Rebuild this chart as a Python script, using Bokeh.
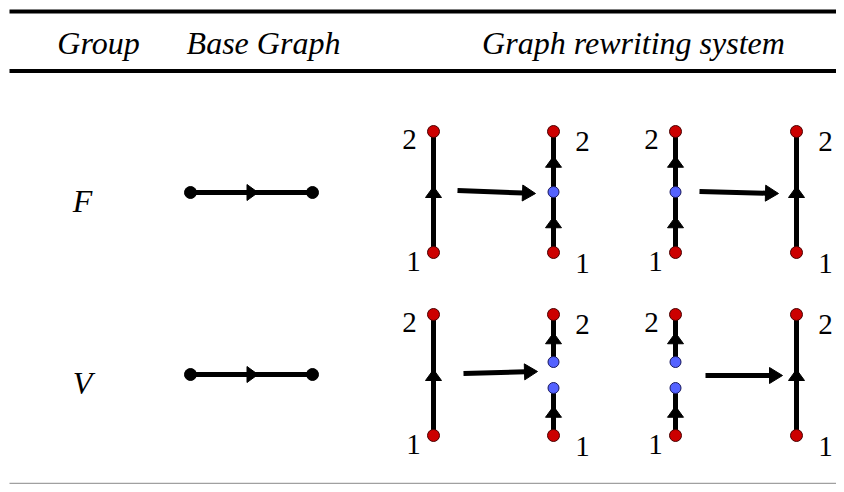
import numpy as np
from bokeh.plotting import figure
from bokeh.models import Range1d, ColumnDataSource
from bokeh.core.properties import value
from bokeh.embed import file_html
from bokeh.resources import INLINE

# ---------------- data ----------------
headers = ["Group", "Base Graph", "Graph rewriting system"]
groups = ["F", "V"]
end_labels = ["1", "2"]          # bottom endpoint, top endpoint
# four graphs of each rewriting system: list of chains (bottom -> top),
# 'end' = red labelled endpoint, 'mid' = blue inserted vertex
rewrite_graphs = {
    "F": [[["end", "end"]],
          [["end", "mid", "end"]],
          [["end", "mid", "end"]],
          [["end", "end"]]],
    "V": [[["end", "end"]],
          [["end", "mid"], ["mid", "end"]],
          [["end", "mid"], ["mid", "end"]],
          [["end", "end"]]],
}
label_side = ["left", "right", "left", "right"]

# ---------------- layout (pixels) ----------------
W, H = 836, 484
header_x = [98, 263, 633]
header_mid = 42
rule_y = [11, 70.5]
bottom_rule_y = 483
group_x = 82
row_centre = {"F": 192, "V": 374}
base_x = (190, 312)
graph_x = [433, 553, 675, 796]
col_top = {"F": 131, "V": 314}
col_bot = {"F": 252, "V": 435}
split_half_gap = 13
arrows = {"F": [(457, 190, 535, 193), (699, 191, 778, 193)],
          "V": [(463, 373, 537, 371), (705, 375, 782, 375)]}

FONT = value("Liberation Serif")
RED, RED_EDGE = "#cc0000", "#4a0000"
BLUE, BLUE_EDGE = "#5462ff", "#1a1a60"

p = figure(width=W, height=H, x_range=Range1d(0, W), y_range=Range1d(H, 0),
           output_backend="svg", toolbar_location=None, min_border=0,
           x_axis_location=None, y_axis_location=None)
p.grid.visible = False
p.outline_line_color = None
p.background_fill_color = "white"

# rules
p.segment(x0=[9, 9], y0=rule_y, x1=[W, W], y1=rule_y, line_width=4, line_color="black")
p.segment(x0=[9], y0=[bottom_rule_y], x1=[W], y1=[bottom_rule_y], line_width=1.5, line_color="#a0a0a0")

# headers
p.text(x=header_x, y=[header_mid] * 3, text=headers, text_font=FONT, text_font_size="32px",
       text_font_style="italic", text_align="center", text_baseline="middle", text_color="black")

seg = {"x0": [], "y0": [], "x1": [], "y1": []}
heads_x, heads_y = [], []
red_x, red_y, blue_x, blue_y, blk_x, blk_y = [], [], [], [], [], []
lab_x, lab_y, lab_t = [], [], []


def add_head(xm, ym, dx, dy, length=11, half=8):
    n = np.hypot(dx, dy)
    ux, uy = dx / n, dy / n
    px, py = -uy, ux
    tipx, tipy = xm + ux * length / 2, ym + uy * length / 2
    bx, by = xm - ux * length / 2, ym - uy * length / 2
    heads_x.append([tipx, bx + px * half, bx - px * half])
    heads_y.append([tipy, by + py * half, by - py * half])


for g in groups:
    yc = row_centre[g]
    # group name
    p.text(x=[group_x], y=[yc + 8], text=[g], text_font=FONT, text_font_size="32px",
           text_font_style="italic", text_align="center", text_baseline="middle")
    # base graph
    seg["x0"].append(base_x[0]); seg["y0"].append(yc); seg["x1"].append(base_x[1]); seg["y1"].append(yc)
    add_head((base_x[0] + base_x[1]) / 2 + 1, yc, 1, 0)
    blk_x += list(base_x); blk_y += [yc, yc]

    top, bot = col_top[g], col_bot[g]
    for k, graph in enumerate(rewrite_graphs[g]):
        gx = graph_x[k]
        if len(graph) == 1:
            spans = [(bot, top)]
        else:
            centre = (top + bot) / 2
            spans = [(bot, centre + split_half_gap), (centre - split_half_gap, top)]
        for chain, (ys, ye) in zip(graph, spans):
            ys_nodes = np.linspace(ys, ye, len(chain))
            for i in range(len(chain) - 1):
                seg["x0"].append(gx); seg["y0"].append(ys_nodes[i])
                seg["x1"].append(gx); seg["y1"].append(ys_nodes[i + 1])
                add_head(gx, (ys_nodes[i] + ys_nodes[i + 1]) / 2, 0, ys_nodes[i + 1] - ys_nodes[i])
            for kind, yy in zip(chain, ys_nodes):
                if kind == "end":
                    red_x.append(gx); red_y.append(yy)
                else:
                    blue_x.append(gx); blue_y.append(yy)
        # endpoint labels (visual centres)
        if label_side[k] == "left":
            lab_x += [gx - 20, gx - 24]
            lab_y += [bot + 9, top + 8]
        else:
            lab_x += [gx + 29, gx + 29]
            lab_y += [bot + 11, top + 10]
        lab_t += end_labels
    # rewrite arrows
    for (x0, y0, x1, y1) in arrows[g]:
        dx, dy = x1 - x0, y1 - y0
        n = np.hypot(dx, dy)
        L = 13
        seg["x0"].append(x0); seg["y0"].append(y0)
        seg["x1"].append(x1 - dx / n * (L - 1)); seg["y1"].append(y1 - dy / n * (L - 1))
        add_head(x1 - dx / n * L / 2, y1 - dy / n * L / 2, dx, dy, length=L, half=8)

p.segment(x0="x0", y0="y0", x1="x1", y1="y1", source=ColumnDataSource(seg),
          line_width=5, line_color="black")
p.patches(xs=heads_x, ys=heads_y, fill_color="black", line_color="black", line_width=1)
p.scatter(x=blk_x, y=blk_y, size=12, fill_color="black", line_color="black")
p.scatter(x=red_x, y=red_y, size=12, fill_color=RED, line_color=RED_EDGE, line_width=1)
p.scatter(x=blue_x, y=blue_y, size=11, fill_color=BLUE, line_color=BLUE_EDGE, line_width=1)
p.text(x=lab_x, y=lab_y, text=lab_t, text_font=FONT, text_font_size="29px",
       text_align="center", text_baseline="middle", text_color="black")

open("out.html", "w").write(file_html(p, INLINE))
